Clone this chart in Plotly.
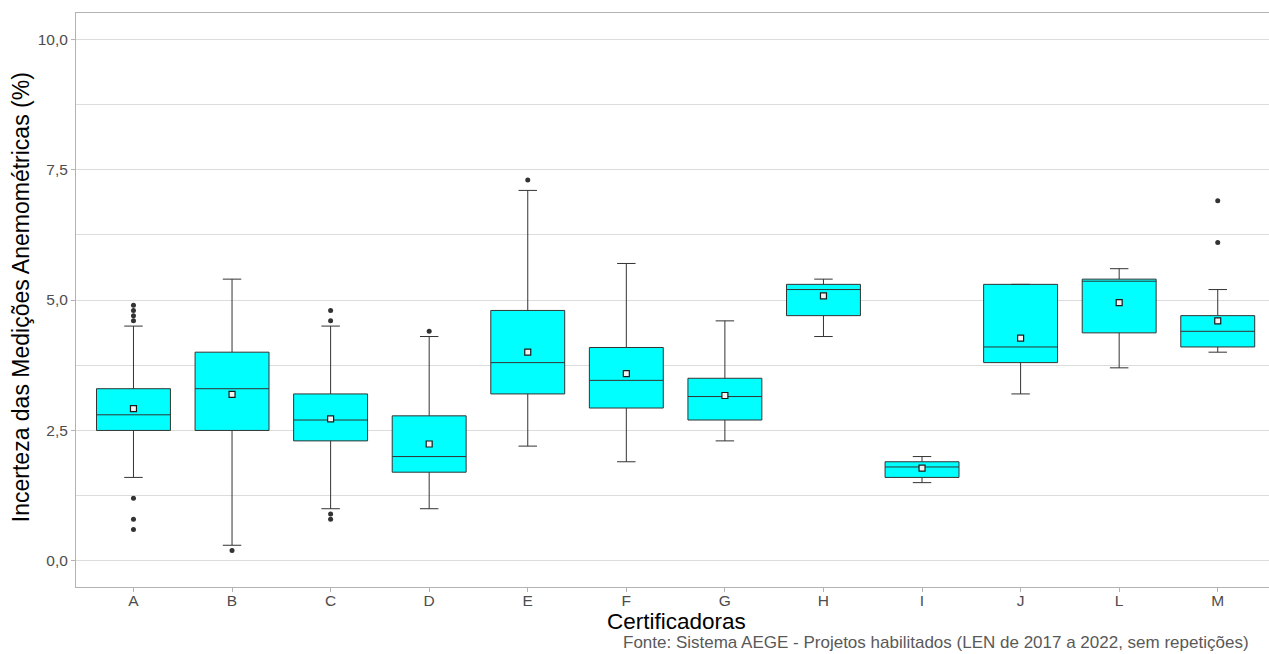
import plotly.graph_objects as go

# Summary statistics per certifying body (uncertainty, %)
categorias = ["A", "B", "C", "D", "E", "F", "G", "H", "I", "J", "L", "M"]
limite_inf = [1.6, 0.3, 1.0, 1.0, 2.2, 1.9, 2.3, 4.3, 1.5, 3.2, 3.7, 4.0]
quartil_1 = [2.5, 2.5, 2.3, 1.7, 3.2, 2.93, 2.7, 4.7, 1.6, 3.8, 4.37, 4.1]
mediana = [2.8, 3.3, 2.7, 2.0, 3.8, 3.46, 3.15, 5.2, 1.8, 4.1, 5.36, 4.4]
quartil_3 = [3.3, 4.0, 3.2, 2.78, 4.8, 4.09, 3.5, 5.3, 1.9, 5.3, 5.4, 4.7]
limite_sup = [4.5, 5.4, 4.5, 4.3, 7.1, 5.7, 4.6, 5.4, 2.0, 5.3, 5.6, 5.2]
media = [2.92, 3.19, 2.72, 2.24, 4.00, 3.59, 3.17, 5.08, 1.78, 4.27, 4.95, 4.60]

# Outlying measurements
outlier_cat = ["A", "A", "A", "A", "A", "A", "A",
               "B",
               "C", "C", "C", "C",
               "D",
               "E",
               "M", "M"]
outlier_val = [4.9, 4.8, 4.7, 4.6, 1.2, 0.8, 0.6,
               0.2,
               4.8, 4.6, 0.9, 0.8,
               4.4,
               7.3,
               6.9, 6.1]

y_ticks = [0, 2.5, 5, 7.5, 10]
y_tick_text = ["0,0", "2,5", "5,0", "7,5", "10,0"]

FONT = "Liberation Sans, Arial, sans-serif"
W, H = 1269, 654
ML, MT, MB, MR = 75.5, 13, 67.3, 0
PW = W - ML - MR
PH = H - MT - MB


def px_to_paper_x(px):
    return (px - ML) / PW


def px_to_paper_y(py):
    return (H - MB - py) / PH


fig = go.Figure()

fig.add_trace(go.Box(
    x=categorias,
    q1=quartil_1,
    median=mediana,
    q3=quartil_3,
    lowerfence=limite_inf,
    upperfence=limite_sup,
    fillcolor="#00FFFF",
    line=dict(color="#333333", width=1),
    width=0.75,
    whiskerwidth=0.25,
    boxpoints=False,
    showlegend=False,
    hoverinfo="skip",
))

fig.add_trace(go.Scatter(
    x=outlier_cat,
    y=outlier_val,
    mode="markers",
    marker=dict(color="#333333", size=5, symbol="circle"),
    showlegend=False,
    hoverinfo="skip",
))

fig.add_trace(go.Scatter(
    x=categorias,
    y=media,
    mode="markers",
    marker=dict(color="#f2f2f2", size=6, symbol="square",
                line=dict(color="#1a1a1a", width=1.2)),
    showlegend=False,
    hoverinfo="skip",
))

# White vertical grid lines through each category
for c in categorias:
    fig.add_shape(type="line", xref="x", yref="paper", x0=c, x1=c, y0=0, y1=1,
                  line=dict(color="white", width=1), layer="between")

fig.update_layout(
    width=W, height=H,
    margin=dict(l=ML, r=MR, t=MT, b=MB, pad=0),
    plot_bgcolor="white",
    paper_bgcolor="white",
    font=dict(family=FONT, color="#4d4d4d", size=15),
    xaxis=dict(
        type="category",
        categoryorder="array",
        categoryarray=categorias,
        range=[-0.583, 11.52],
        showgrid=False,
        showline=True, mirror=True, linecolor="#b3b3b3", linewidth=1,
        ticks="outside", ticklen=4, tickcolor="#b3b3b3", tickwidth=1,
        ticklabelstandoff=-5,
        tickfont=dict(size=15.5, color="#4d4d4d", family=FONT),
        zeroline=False,
    ),
    yaxis=dict(
        range=[-0.5, 10.5],
        tickvals=y_ticks,
        ticktext=y_tick_text,
        showgrid=True, gridcolor="#dcdcdc", gridwidth=1,
        minor=dict(dtick=1.25, tick0=0, showgrid=True, gridcolor="#dcdcdc", gridwidth=1),
        showline=True, mirror=False, linecolor="#b3b3b3", linewidth=1,
        ticks="outside", ticklen=4, tickcolor="#b3b3b3", tickwidth=1,
        tickfont=dict(size=15.5, color="#4d4d4d", family=FONT),
        zeroline=False,
    ),
    annotations=[
        dict(text="Certificadoras", xref="paper", yref="paper",
             x=px_to_paper_x(676.3), y=px_to_paper_y(621),
             xanchor="center", yanchor="middle", showarrow=False,
             font=dict(size=22.5, color="black", family=FONT)),
        dict(text="Incerteza das Medições Anemométricas (%)", xref="paper", yref="paper",
             x=px_to_paper_x(20), y=px_to_paper_y(297.5), textangle=-90,
             xanchor="center", yanchor="middle", showarrow=False,
             font=dict(size=23, color="black", family=FONT)),
        dict(text="Fonte: Sistema AEGE - Projetos habilitados (LEN de 2017 a 2022, sem repetições)",
             xref="paper", yref="paper",
             x=px_to_paper_x(621), y=px_to_paper_y(654),
             xanchor="left", yanchor="bottom", showarrow=False,
             font=dict(size=17, color="#595959", family=FONT)),
    ],
)

fig.write_html("out.html")
